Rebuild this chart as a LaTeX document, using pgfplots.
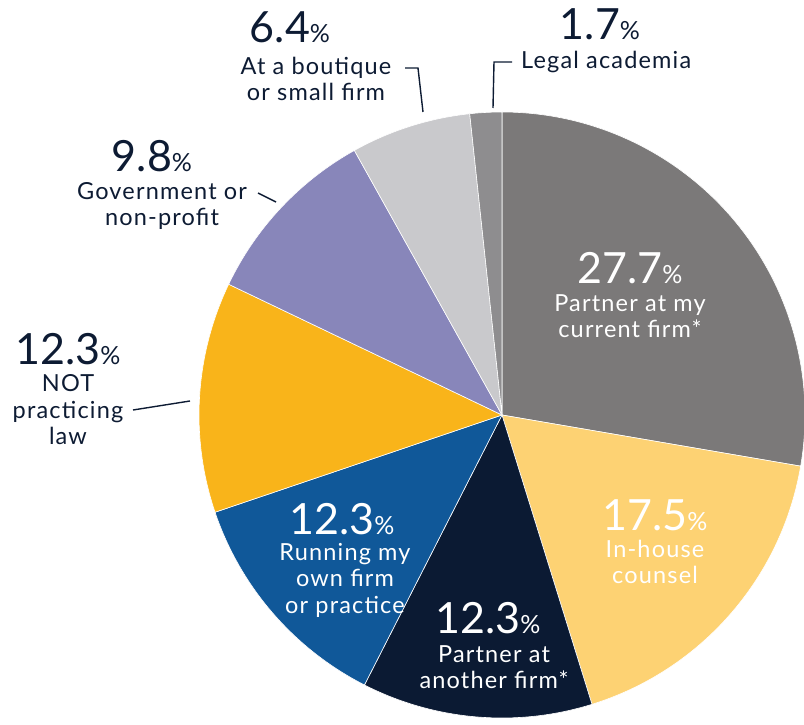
\documentclass[border=0pt]{standalone}
\usepackage{pgfplots}
\usepackage{pgfplotstable}
\pgfplotsset{compat=1.18}
\usepackage{fontspec}
\setmainfont{Lato}
\newfontfamily\labfont{Lato}[LetterSpace=5]
\definecolor{cA}{HTML}{7B7979}
\definecolor{cB}{HTML}{FDD273}
\definecolor{cC}{HTML}{0B1A33}
\definecolor{cD}{HTML}{105899}
\definecolor{cE}{HTML}{F9B41A}
\definecolor{cF}{HTML}{8886BA}
\definecolor{cG}{HTML}{C9C9CC}
\definecolor{cH}{HTML}{8E8D8F}
\definecolor{txt}{HTML}{0D1B33}
\pgfplotstableread{
value color
27.7 cA
17.5 cB
12.3 cC
12.3 cD
12.3 cE
9.8 cF
6.4 cG
1.7 cH
}\piedata
\newcommand\num[1]{{\fontsize{43}{43}\selectfont #1}{\fontsize{25}{25}\selectfont\%}}
\tikzset{lab/.style={align=center,font=\labfont\fontsize{23.5}{26.5}\selectfont,inner sep=0pt},
  nm/.style={inner sep=0pt,text height=31pt,text depth=0pt}}
\begin{document}
\begin{tikzpicture}[x=1pt,y=1pt]
\useasboundingbox (0,0) rectangle (804,724);
\begin{axis}[at={(0,0)},anchor=south west,scale only axis,width=804pt,height=724pt,
  xmin=0,xmax=804,ymin=0,ymax=724,axis lines=none,ticks=none,clip=true]
\pgfplotstablegetrowsof{\piedata}
\pgfmathtruncatemacro\N{\pgfplotsretval-1}
\def\cum{0}
\pgfplotsforeachungrouped \i in {0,...,\N}{%
  \pgfplotstablegetelem{\i}{value}\of\piedata \let\v\pgfplotsretval
  \pgfplotstablegetelem{\i}{color}\of\piedata \let\c\pgfplotsretval
  \pgfmathsetmacro\a{90-3.6*\cum}
  \pgfmathsetmacro\b{90-3.6*(\cum+\v)}
  \edef\temp{\noexpand\fill[\c,draw=white,line width=0.6pt] (axis cs:502,309) -- ([shift={(\a:303pt)}]axis cs:502,309) arc[start angle=\a, end angle=\b, radius=303pt] -- cycle;}
  \temp
  \pgfmathsetmacro\cum{\cum+\v}
}
\end{axis}
% inside labels (white)
\node[white,nm] at (630,456) {\num{27.7}};
\node[white,lab] at (630,408) {Partner at my\\current firm*};
\node[white,nm] at (655,209) {\num{17.5}};
\node[white,lab] at (655,162) {In-house\\counsel};
\node[white,nm] at (488,106) {\num{12.3}};
\node[white,lab] at (494,57) {Partner at\\another firm*};
\node[white,nm] at (342,205) {\num{12.3}};
\node[white,lab] at (345,144) {Running my\\own firm\\or practice};
% outside labels
\node[txt,nm] at (68,375) {\num{12.3}};
\node[txt,lab] at (68,314) {NOT\\practicing\\law};
\draw[txt,line width=1.4pt] (133,314) -- (190,323);
\node[txt,nm] at (152,568) {\num{9.8}};
\node[txt,lab] at (162,518) {Government or\\non-profit};
\draw[txt,line width=1.4pt] (258,531) -- (276,522);
\node[txt,nm] at (290,697) {\num{6.4}};
\node[txt,lab] at (316,645) {At a boutique\\or small firm};
\draw[txt,line width=1.4pt] (405,656) -- (418,656) -- (423,612);
\node[txt,nm] at (600,700) {\num{1.7}};
\node[txt,lab,anchor=west] at (521,662) {Legal academia};
\draw[txt,line width=1.4pt] (512,662) -- (494,662) -- (493,616);
\end{tikzpicture}
\end{document}
